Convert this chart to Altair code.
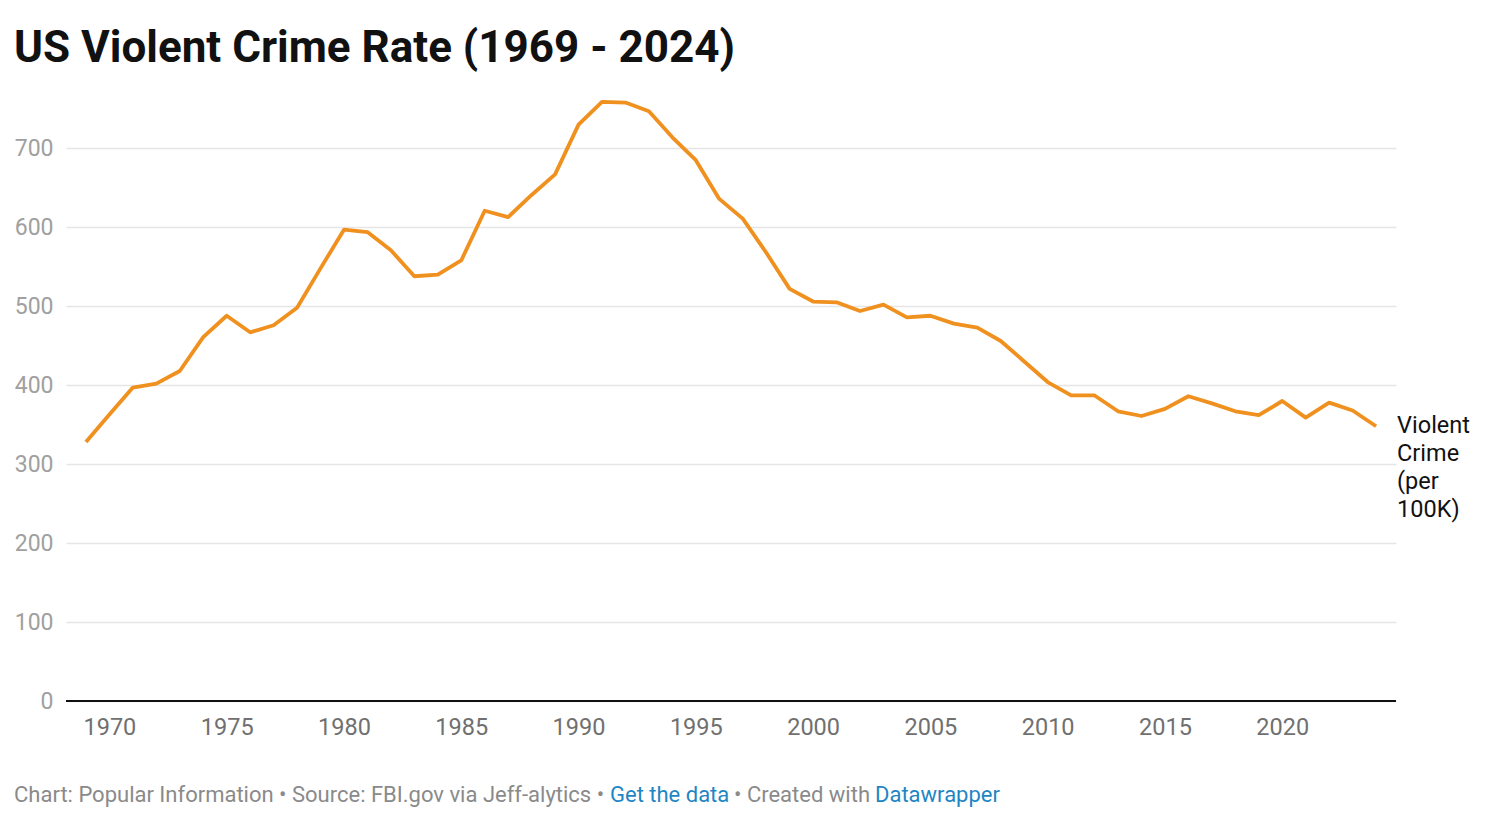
import altair as alt
import pandas as pd

years = list(range(1969, 2025))
rates = [328, 363, 397, 402, 418, 461, 488, 467, 476, 498,
         548, 597, 594, 571, 538, 540, 558, 621, 613, 641,
         667, 730, 759, 758, 747, 714, 685, 636, 611, 568,
         522, 506, 505, 494, 502, 486, 488, 478, 473, 456,
         430, 404, 387, 387, 367, 361, 370, 386, 377, 367,
         362, 380, 359, 378, 368, 348]
x_ticks = [1970, 1975, 1980, 1985, 1990, 1995, 2000, 2005, 2010, 2015, 2020]
y_ticks = [0, 100, 200, 300, 400, 500, 600, 700]
title_text = "US Violent Crime Rate (1969 - 2024)"
series_label = ["Violent", "Crime", "(per", "100K)"]
footer_gray1 = "Chart: Popular Information • Source: FBI.gov via Jeff-alytics •"
footer_link1 = "Get the data"
footer_gray2 = "• Created with"
footer_link2 = "Datawrapper"

df = pd.DataFrame({"year": years, "rate": rates})
last = df.tail(1)

ORANGE = "#f0901e"
FONT = "Roboto"
GRAY_FOOT = "#8a8a8a"
BLUE = "#1f86c4"

x_enc = alt.X("year:Q",
              scale=alt.Scale(domain=[1968.15, 2024.85], nice=False, zero=False),
              axis=alt.Axis(values=x_ticks, format="d", grid=False, domain=False,
                            ticks=False, labelFontSize=23.5, labelColor="#707070",
                            labelPadding=14, title=None, labelFont=FONT))
y_enc = alt.Y("rate:Q",
              scale=alt.Scale(domain=[0, 760], nice=False),
              axis=alt.Axis(values=y_ticks, grid=True, gridColor="#e5e5e5",
                            gridWidth=1.5, domain=False, ticks=False,
                            labelFontSize=23, labelColor="#a0a0a0",
                            labelPadding=13, title=None, labelFont=FONT))

base = alt.Chart(df)

line = base.mark_line(color=ORANGE, strokeWidth=3.8, strokeJoin="round").encode(x=x_enc, y=y_enc)

zero_rule = alt.Chart(df.head(1)).mark_rule(color="#111111", strokeWidth=2).encode(y=alt.datum(0))

label = alt.Chart(last).mark_text(text=series_label, align="left", baseline="alphabetic",
                                  dx=21, dy=7, lineHeight=28, fontSize=23.5,
                                  font=FONT, color="#111111").encode(
    x="year:Q", y="rate:Q")

one = pd.DataFrame({"k": [0]})
title = alt.Chart(one).mark_text(text=title_text, align="left", baseline="alphabetic",
                                 fontSize=44, fontWeight="bold", font=FONT,
                                 color="#111111").encode(x=alt.value(-52), y=alt.value(-39))

f1 = alt.Chart(one).mark_text(text=footer_gray1, align="left", baseline="middle",
                              fontSize=22, font=FONT, color=GRAY_FOOT).encode(
    x=alt.value(-52), y=alt.value(694))
f2 = alt.Chart(one).mark_text(text=footer_link1, align="left", baseline="middle",
                              fontSize=22, font=FONT, color=BLUE).encode(
    x=alt.value(544), y=alt.value(694))
f3 = alt.Chart(one).mark_text(text=footer_gray2, align="left", baseline="middle",
                              fontSize=22, font=FONT, color=GRAY_FOOT).encode(
    x=alt.value(668), y=alt.value(694))
f4 = alt.Chart(one).mark_text(text=footer_link2, align="left", baseline="middle",
                              fontSize=22, font=FONT, color=BLUE).encode(
    x=alt.value(809), y=alt.value(694))

chart = alt.layer(line, zero_rule, label, title, f1, f2, f3, f4).properties(
    width=1330, height=600,
    padding={"left": 58, "top": 93, "right": 100, "bottom": 110},
    autosize=alt.AutoSizeParams(type="none"),
).configure(font=FONT, background="white").configure_view(stroke=None, strokeWidth=0)

chart.save("out.html", embed_options={"renderer": "svg", "actions": False})
